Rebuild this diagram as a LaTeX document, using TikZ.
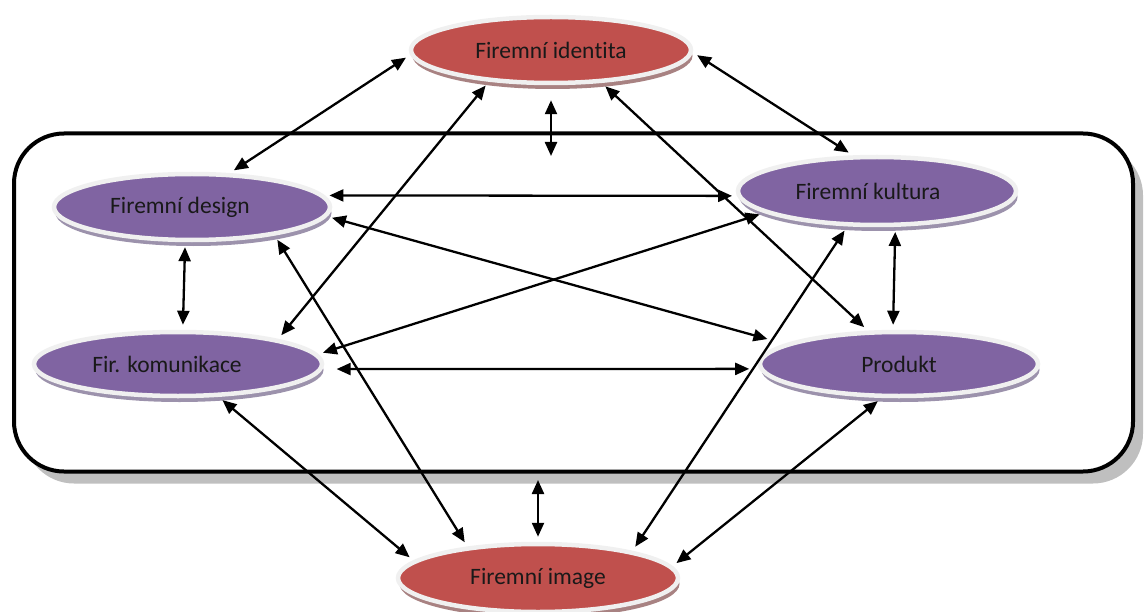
\documentclass[tikz,border=0pt]{standalone}
\usepackage{fontspec}
\setmainfont{Carlito}[RawFeature={-liga;-clig;-calt;-dlig}]
\usetikzlibrary{arrows.meta,shadows,shapes.geometric}
\definecolor{redf}{HTML}{C0504D}
\definecolor{purf}{HTML}{8064A2}
\definecolor{rim}{HTML}{F0F0F0}
\definecolor{redsh}{HTML}{A88282}
\definecolor{pursh}{HTML}{9C92AC}
\definecolor{boxsh}{HTML}{BFBFBF}
\begin{document}
\begin{tikzpicture}[x=1pt,y=-1pt,
  ell/.style={ellipse, draw=rim, line width=4.5pt, inner sep=0pt,
    font=\fontsize{23.5}{28}\selectfont, text=black!90},
  redell/.style={ell, fill=redf,
    drop shadow={shadow xshift=1.5pt, shadow yshift=-6pt, fill=redsh, opacity=1}},
  purell/.style={ell, fill=purf,
    drop shadow={shadow xshift=1.5pt, shadow yshift=-6pt, fill=pursh, opacity=1}},
  groupbox/.style={draw=black, fill=white, line width=4pt, rounded corners=50pt,
    drop shadow={shadow xshift=10pt, shadow yshift=-12pt, fill=boxsh, opacity=1}},
  link/.style={{Triangle[length=14pt,width=12pt]}-{Triangle[length=14pt,width=12pt]},
    line width=2.3pt, shorten >=5pt, shorten <=5pt}]
\useasboundingbox (0,0) rectangle (1147,612);

\node[groupbox, minimum width=1119pt, minimum height=338pt] (box) at (573.5,302.5) {};

\node[redell, minimum width=280pt, minimum height=66pt] (id) at (551,50) {Firemní iden\kern0pt tita};
\node[purell, minimum width=276pt, minimum height=66pt] (des) at (192,207) {\hspace*{-24pt}Firemní design};
\node[purell, minimum width=278pt, minimum height=68pt] (kul) at (877,191) {\hspace*{-18pt}Firemní kultura};
\node[purell, minimum width=288pt, minimum height=64pt] (kom) at (178,364) {\hspace*{-22pt}Fir. komunikace};
\node[purell, minimum width=278pt, minimum height=64pt] (pro) at (899,364) {Produkt};
\node[redell, minimum width=280pt, minimum height=68pt] (img) at (538,578) {Firemní image};

\coordinate (c1) at (551,156);
\coordinate (c2) at (538,480);

\draw[link] (id.182) -- (des.42);
\draw[link] (id.-1) -- (kul.124);
\draw[link, shorten <=15pt, shorten >=0pt] (id.south) -- (c1);
\draw[link] (id.207) -- (kom.14);
\draw[link] (id.327) -- (pro.133);
\draw[link] (des.5) -- (kul.182);
\draw[link, shorten >=18pt] (des.356) -- (pro.170);
\draw[link] (des.341) -- (img.156);
\draw[link] (des.259) -- (kom.82);
\draw[link] (kul.191) -- (kom.4);
\draw[link] (kul.230) -- (img.16);
\draw[link] (kul.297) -- (pro.100);
\draw[link, shorten <=14pt, shorten >=10pt] (kom.358) -- (pro.182);
\draw[link] (kom.321) -- (img.172);
\draw[link] (pro.243) -- (img.5);
\draw[link, shorten <=0pt] (c2) -- (img.north);
\end{tikzpicture}
\end{document}
